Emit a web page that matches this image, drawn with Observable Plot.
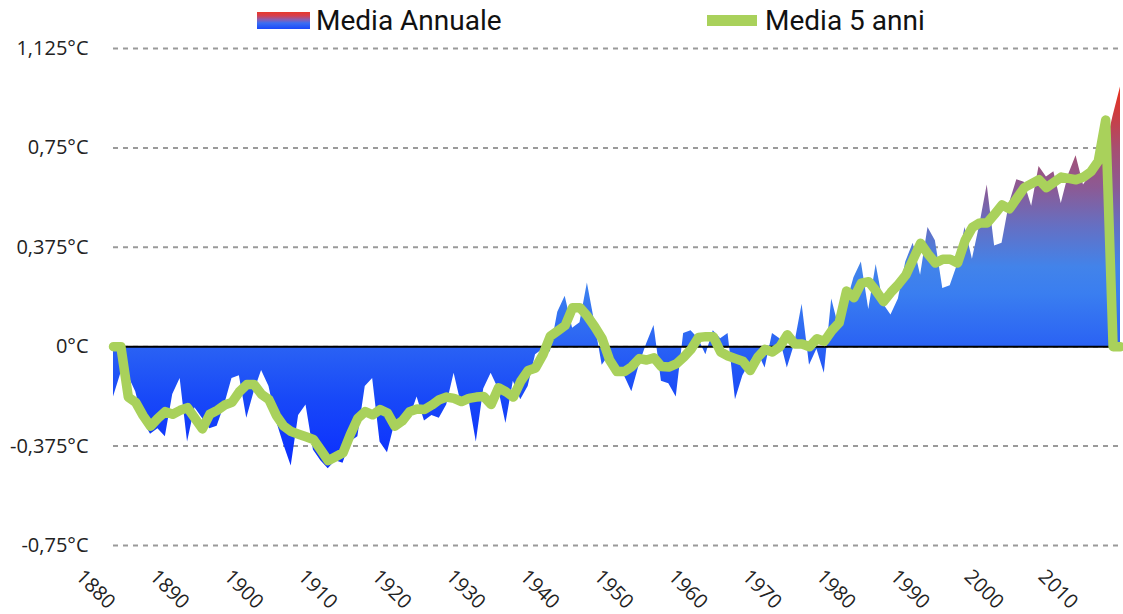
<!DOCTYPE html>
<html>
<head>
<meta charset="utf-8">
<script src="https://cdn.jsdelivr.net/npm/d3@7"></script>
<script src="https://cdn.jsdelivr.net/npm/@observablehq/plot@0.6"></script>
<style>
  html, body { margin: 0; padding: 0; background: #fff; }
  #wrap { width: 1123px; height: 614px; overflow: hidden; }
  #legend { position: relative; height: 36px; font-family: Roboto, sans-serif; font-size: 28px; color: #111; }
  .item { position: absolute; top: 4px; height: 32px; display: flex; align-items: center; white-space: nowrap; }
  .sw1 { width: 53px; height: 17px; margin-right: 6px;
         background: linear-gradient(to bottom, #e8382a 0%, #d44050 22%, #8a5eb0 45%, #3b6ef2 65%, #1a48fa 100%); }
  .sw2 { width: 50px; height: 11px; margin-right: 8px; background: #a9d15b; }
</style>
</head>
<body>
<div id="wrap">
  <div id="legend">
    <div class="item" style="left:257px"><span class="sw1"></span><span>Media Annuale</span></div>
    <div class="item" style="left:707px"><span class="sw2"></span><span>Media 5 anni</span></div>
  </div>
  <div id="chart"></div>
</div>
<script>
// ---- Data -------------------------------------------------------------
const firstYear = 1880;
// Annual mean anomaly (°C), 1880–2016
const annualMean = [
  -0.19, -0.10, -0.11, -0.17, -0.28, -0.33, -0.31, -0.34, -0.18, -0.12,
  -0.36, -0.23, -0.27, -0.31, -0.30, -0.22, -0.12, -0.11, -0.27, -0.17,
  -0.09, -0.15, -0.28, -0.37, -0.45, -0.26, -0.22, -0.39, -0.43, -0.46,
  -0.43, -0.44, -0.36, -0.34, -0.15, -0.12, -0.36, -0.40, -0.29, -0.27,
  -0.27, -0.19, -0.28, -0.26, -0.27, -0.22, -0.10, -0.22, -0.20, -0.36,
  -0.16, -0.10, -0.16, -0.29, -0.13, -0.20, -0.15, -0.03, -0.01, -0.02,
   0.13,  0.19,  0.07,  0.09,  0.24,  0.09, -0.07, -0.03, -0.11, -0.11,
  -0.17, -0.07,  0.01,  0.08, -0.13, -0.14, -0.19,  0.05,  0.06,  0.03,
  -0.03,  0.06,  0.03,  0.05, -0.20, -0.11, -0.06, -0.02, -0.08,  0.05,
   0.03, -0.08,  0.01,  0.16, -0.07, -0.01, -0.10,  0.18,  0.07,  0.16,
   0.26,  0.32,  0.14,  0.31,  0.16,  0.12,  0.18,  0.32,  0.39,  0.27,
   0.45,  0.40,  0.22,  0.23,  0.31,  0.45,  0.33,  0.46,  0.61,  0.38,
   0.39,  0.54,  0.63,  0.62,  0.53,  0.68,  0.64,  0.66,  0.54,  0.65,
   0.72,  0.61,  0.65,  0.68,  0.75,  0.87,  0.98
];
// 5-year mean (°C), 1880–2016 (as plotted, with zeros at the ends)
const fiveYearMean = [
   0.00,  0.00, -0.19, -0.21, -0.26, -0.30, -0.27, -0.245, -0.255, -0.24,
  -0.23, -0.27, -0.31, -0.255, -0.24, -0.22, -0.21, -0.17, -0.143, -0.143,
  -0.18, -0.20, -0.26, -0.30, -0.32, -0.33, -0.34, -0.35, -0.39, -0.43,
  -0.415, -0.40, -0.33, -0.27, -0.245, -0.257, -0.237, -0.25, -0.30, -0.28,
  -0.245, -0.235, -0.237, -0.22, -0.20, -0.19, -0.195, -0.207, -0.195, -0.19,
  -0.188, -0.218, -0.155, -0.17, -0.19, -0.13, -0.09, -0.08, -0.03, 0.04,
   0.06,  0.08,  0.147, 0.147, 0.115, 0.075, 0.03, -0.05, -0.094, -0.094,
  -0.075, -0.045, -0.05, -0.042, -0.075, -0.077, -0.065, -0.04, -0.01, 0.035,
   0.038, 0.038, -0.02, -0.035, -0.045, -0.055, -0.09, -0.04, -0.01, -0.02,
   0.00,  0.045, 0.01,  0.01,  0.00,  0.03,  0.02,  0.06,  0.09,  0.21,
   0.185, 0.24,  0.245, 0.21,  0.17,  0.205, 0.235, 0.27,  0.33,  0.39,
   0.35,  0.316, 0.33,  0.33,  0.316, 0.40,  0.45,  0.467, 0.467, 0.50,
   0.535, 0.52,  0.56,  0.60,  0.615, 0.63,  0.60,  0.62,  0.64,  0.635,
   0.63,  0.64,  0.66,  0.70,  0.855, 0.00,  0.00
];
const xTickYears = [1880, 1890, 1900, 1910, 1920, 1930, 1940, 1950, 1960, 1970, 1980, 1990, 2000, 2010];
const yTicks = [-0.75, -0.375, 0, 0.375, 0.75, 1.125];
const yTickLabels = ["-0,75°C", "-0,375°C", "0°C", "0,375°C", "0,75°C", "1,125°C"];

// gradient stops for the annual area (value -> colour)
const gradStopValues = [-0.47, -0.2, 0.0, 0.2, 0.3, 0.45, 0.6, 0.75, 0.98];
const gradStopColors = ["#0a2cff", "#1848f8", "#2a62f4", "#3a7ef0", "#4283ea", "#6470c4", "#8c5a94", "#a84e70", "#ea2e1a"];

// ---- Build tables -----------------------------------------------------
const annualData = annualMean.map((v, i) => ({year: firstYear + i, value: v}));
const fiveData = fiveYearMean.map((v, i) => ({year: firstYear + i, value: v}));
const lastYear = firstYear + annualMean.length - 1;

const axisFont = "'Open Sans', sans-serif";

const chart = Plot.plot({
  width: 1123,
  height: 578,
  marginTop: 12,
  marginBottom: 69,
  marginLeft: 113,
  marginRight: 3,
  style: {fontFamily: axisFont, fontSize: "20px", color: "#222", background: "#fff", overflow: "visible"},
  x: {domain: [firstYear, lastYear], axis: null},
  y: {domain: [-0.75, 1.125], axis: null},
  marks: [
    Plot.gridY(yTicks, {stroke: "#9a9a9a", strokeOpacity: 1, strokeWidth: 2, strokeDasharray: "5,5"}),
    Plot.areaY(annualData, {x: "year", y: "value", fill: "url(#annualGrad)"}),
    Plot.ruleY([0], {stroke: "#000", strokeWidth: 2}),
    Plot.lineY(fiveData, {x: "year", y: "value", stroke: "#a9d15b", strokeWidth: 9.5, strokeLinejoin: "round"}),
    Plot.axisY(yTicks, {
      label: null,
      tickSize: 0, tickPadding: 25,
      tickFormat: d => yTickLabels[yTicks.indexOf(d)],
      fontSize: 20, fill: "#222"
    }),
    Plot.text(xTickYears, {
      x: d => d, text: d => String(d),
      frameAnchor: "bottom", dy: 44, dx: -18,
      rotate: 45, textAnchor: "middle", lineAnchor: "middle",
      fontSize: 20, fill: "#222"
    })
  ]
});

// linear gradient in data space, positioned through the y scale
const ys = chart.scale("y");
const ns = "http://www.w3.org/2000/svg";
const defs = document.createElementNS(ns, "defs");
const grad = document.createElementNS(ns, "linearGradient");
grad.setAttribute("id", "annualGrad");
grad.setAttribute("gradientUnits", "userSpaceOnUse");
grad.setAttribute("x1", "0");
grad.setAttribute("x2", "0");
const gTop = ys.apply(gradStopValues[gradStopValues.length - 1]);
const gBot = ys.apply(gradStopValues[0]);
grad.setAttribute("y1", gBot);
grad.setAttribute("y2", gTop);
gradStopValues.forEach((v, i) => {
  const s = document.createElementNS(ns, "stop");
  s.setAttribute("offset", ((ys.apply(v) - gBot) / (gTop - gBot)).toFixed(4));
  s.setAttribute("stop-color", gradStopColors[i]);
  grad.appendChild(s);
});
defs.appendChild(grad);
chart.insertBefore(defs, chart.firstChild);

document.getElementById("chart").appendChild(chart);
</script>
</body>
</html>
